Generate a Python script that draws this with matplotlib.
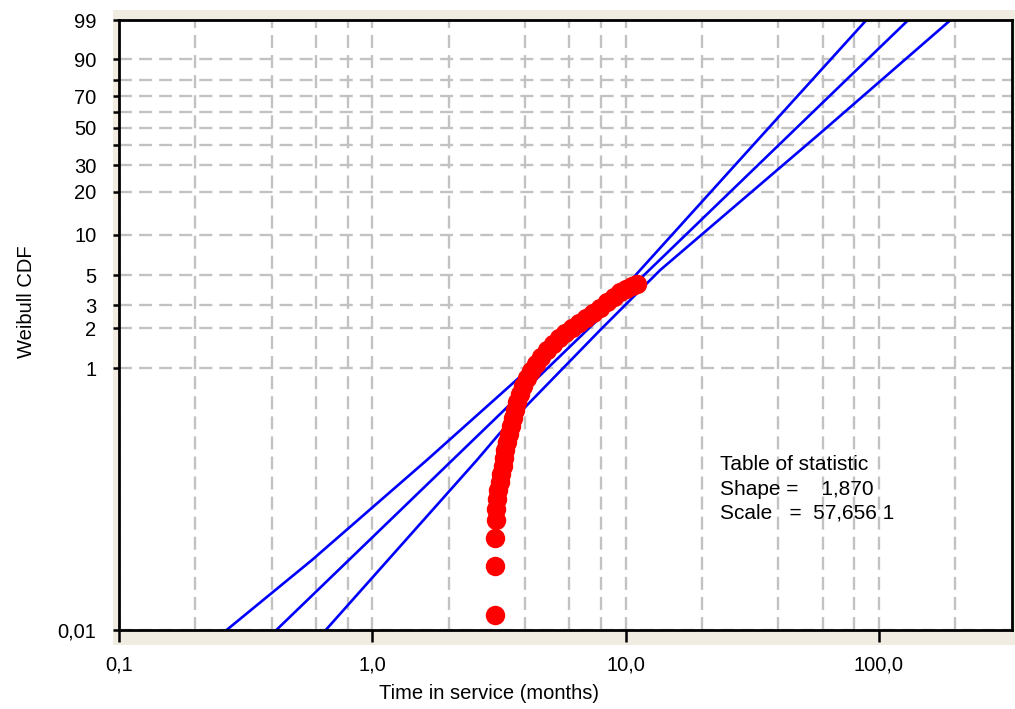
import numpy as np
import matplotlib
matplotlib.use("Agg")
import matplotlib.pyplot as plt
from matplotlib.patches import Rectangle
from matplotlib.ticker import FixedLocator, FixedFormatter, NullFormatter

plt.rcParams['font.family'] = ['Liberation Sans', 'DejaVu Sans']

# failures: time in service (months) and median rank (%)
fail_time = [3.05, 3.05, 3.05, 3.077, 3.077, 3.105, 3.133, 3.192, 3.221, 3.280,
             3.311, 3.341, 3.402, 3.465, 3.529, 3.593, 3.658, 3.725, 3.828, 3.935,
             4.079, 4.231, 4.428, 4.634, 4.895, 5.170, 5.460, 5.767, 6.145, 6.549,
             6.980, 7.437, 7.926, 8.448, 9.003, 9.513, 10.05, 10.61, 11.10]
fail_cdf = [0.0130, 0.0308, 0.0504, 0.0692, 0.0840, 0.100, 0.117, 0.135, 0.155, 0.179,
            0.206, 0.237, 0.273, 0.314, 0.361, 0.416, 0.479, 0.551, 0.634, 0.729,
            0.839, 0.948, 1.073, 1.213, 1.371, 1.522, 1.690, 1.845, 2.013, 2.196,
            2.397, 2.615, 2.852, 3.163, 3.447, 3.760, 3.960, 4.170, 4.314]

# fitted weibull line and confidence bounds
fit_time = [0.418, 130.5]
fit_cdf = [0.01, 99.0]
lower_time = [0.266, 0.577, 1.642, 3.828, 6.49, 8.93, 11.41, 40.8, 89.2]
lower_cdf = [0.01, 0.0342, 0.199, 0.858, 1.845, 3.27, 5.49, 57.9, 99.0]
upper_time = [0.655, 1.152, 2.588, 3.19, 7.93, 13.69, 58.7, 191.7]
upper_cdf = [0.01, 0.0342, 0.199, 0.320, 1.943, 5.49, 46.7, 99.0]

x_ticks = [0.1, 1, 10, 100]
x_labels = ['0,1', '1,0', '10,0', '100,0']
x_grid = [0.2, 0.4, 0.6, 0.8, 2, 4, 6, 8, 20, 40, 60, 80, 200]
y_ticks = [0.01, 1, 2, 3, 5, 10, 20, 30, 40, 50, 60, 70, 80, 90, 99]
y_labels = ['0,01', '1', '2', '3', '5', '10', '20', '30', '', '50', '', '70', '', '90', '99']

stats_lines = ['Table of statistic', 'Shape =    1,870', 'Scale   =  57,656 1']


def weib_fwd(p):
    p = np.clip(np.asarray(p, dtype=float), 1e-9, 100 - 1e-9)
    return np.log(-np.log(1 - p / 100.0))


def weib_inv(w):
    return 100.0 * (1 - np.exp(-np.exp(np.asarray(w, dtype=float))))


W, H = 1015, 709
FS = 14.5
fig = plt.figure(figsize=(W / 100, H / 100), dpi=100)
fig.patches.append(Rectangle((113 / W, 1 - 645 / H), (W - 113) / W, (645 - 10) / H,
                             transform=fig.transFigure, facecolor='#f0ece2',
                             edgecolor='none', zorder=-1))
ax = fig.add_axes([119 / W, 1 - 630 / H, (1012 - 119) / W, (630 - 20) / H])
ax.set_facecolor('white')

ax.set_xscale('log')
ax.set_yscale('function', functions=(weib_fwd, weib_inv))
ax.set_xlim(0.1, 335)
ax.set_ylim(0.01, 99)

ax.plot(lower_time, lower_cdf, color='#0000ff', lw=1.9, zorder=2)
ax.plot(fit_time, fit_cdf, color='#0000ff', lw=1.9, zorder=2)
ax.plot(upper_time, upper_cdf, color='#0000ff', lw=1.9, zorder=2)
ax.plot(fail_time, fail_cdf, 'o', color='#ff0000', ms=14, mec='none', zorder=3)

ax.xaxis.set_major_locator(FixedLocator(x_ticks))
ax.xaxis.set_major_formatter(FixedFormatter(x_labels))
ax.xaxis.set_minor_locator(FixedLocator(x_grid))
ax.xaxis.set_minor_formatter(NullFormatter())
ax.yaxis.set_major_locator(FixedLocator(y_ticks))
ax.yaxis.set_major_formatter(FixedFormatter(y_labels))
ax.yaxis.set_minor_locator(FixedLocator([]))

ax.set_axisbelow(True)
ax.grid(True, which='both', color='#c2c2c2', linewidth=1.7, linestyle=(0, (5.5, 3)))

ax.tick_params(axis='x', which='major', direction='out', length=8.5, width=1.8,
               pad=10, labelsize=FS, colors='black')
ax.tick_params(axis='x', which='minor', length=0)
ax.tick_params(axis='y', which='major', direction='out', length=4.3, width=1.8,
               pad=12, labelsize=FS, colors='black')
for sp in ax.spines.values():
    sp.set_linewidth(2.0)
    sp.set_color('black')

ax.set_xlabel('Time in service (months)', fontsize=FS)
ax.xaxis.set_label_coords(0.414, -0.088)
ax.set_ylabel('Weibull CDF', fontsize=FS)
ax.yaxis.set_label_coords(-0.093, 0.538)

for i, line in enumerate(stats_lines):
    ax.text(0.673, 0.271 - i * 0.040, line, transform=ax.transAxes,
            fontsize=15, ha='left', va='center')

fig.savefig('out.png', dpi=100)
